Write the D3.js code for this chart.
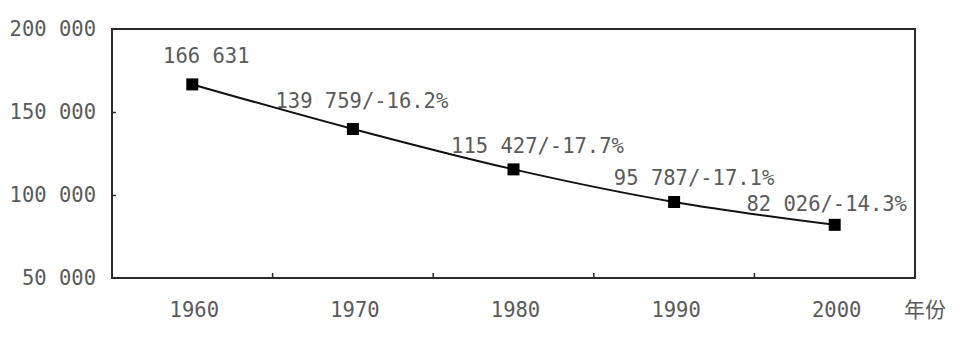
<!DOCTYPE html>
<html><head><meta charset="utf-8">
<script src="https://cdn.jsdelivr.net/npm/d3@7"></script>
<style>body{margin:0;background:#fff}svg{display:block}</style>
</head><body>
<svg id="c" width="964" height="339"></svg>
<script>
const years = ["1960","1970","1980","1990","2000"];
const values = [166631, 139759, 115427, 95787, 82026];
const labels = ["166 631","139 759/-16.2%","115 427/-17.7%","95 787/-17.1%","82 026/-14.3%"];
const yTicks = [50000, 100000, 150000, 200000];
const yTickLabels = ["50 000","100 000","150 000","200 000"];
const xUnit = "年份";
// label offsets relative to the point (layout only)
const labelDx = [14, 9, 24, 20, -8];
const labelDy = [-21, -21, -16, -17, -14];

const svg = d3.select("#c");
const L = 112, R = 915, T = 29, B = 278;
const x = d3.scaleBand().domain(years).range([L, R]).padding(0);
const y = d3.scaleLinear().domain([50000, 200000]).range([B, T]);
const font = "'DejaVu Sans Mono', monospace";
const fs = 20.5;
const txt = "#5a5a5a";

// frame
svg.append("rect").attr("x", L).attr("y", T).attr("width", R - L).attr("height", B - T)
  .attr("fill", "none").attr("stroke", "#2a2a2a").attr("stroke-width", 2);

// y axis ticks (inside)
const yAxis = d3.axisRight(y).tickValues([100000, 150000]).tickSize(4).tickFormat("");
const gy = svg.append("g").attr("transform", `translate(${L},0)`).call(yAxis);
gy.select(".domain").remove();
gy.selectAll("line").attr("stroke", "#2a2a2a").attr("stroke-width", 1.5);

// y labels
svg.append("g").selectAll("text").data(yTicks).join("text")
  .attr("x", 96).attr("y", d => y(d)).attr("dy", "0.35em")
  .attr("text-anchor", "end").attr("font-family", font).attr("font-size", fs)
  .attr("fill", txt).text((d, i) => yTickLabels[i]);

// x ticks at band boundaries (inside, pointing up)
const bounds = years.slice(1).map(d => x(d));
svg.append("g").selectAll("line").data(bounds).join("line")
  .attr("x1", d => d).attr("x2", d => d).attr("y1", B).attr("y2", B - 5)
  .attr("stroke", "#2a2a2a").attr("stroke-width", 1.5);

// x labels
svg.append("g").selectAll("text").data(years).join("text")
  .attr("x", d => x(d) + x.bandwidth() / 2 + 2).attr("y", 317)
  .attr("text-anchor", "middle").attr("font-family", font).attr("font-size", fs)
  .attr("fill", txt).text(d => d);
svg.append("text").attr("x", 925).attr("y", 317).attr("text-anchor", "middle")
  .attr("font-family", "'Noto Sans CJK SC', sans-serif").attr("font-size", 21)
  .attr("fill", txt).text(xUnit);

// line
const cx = d => x(d) + x.bandwidth() / 2;
const line = d3.line().x((d, i) => cx(years[i])).y(d => y(d)).curve(d3.curveMonotoneX);
svg.append("path").datum(values).attr("d", line).attr("fill", "none")
  .attr("stroke", "#111").attr("stroke-width", 2);

// markers
const s = 12;
svg.append("g").selectAll("rect").data(values).join("rect")
  .attr("x", (d, i) => cx(years[i]) - s / 2).attr("y", d => y(d) - s / 2)
  .attr("width", s).attr("height", s).attr("fill", "#000");

// value labels
svg.append("g").selectAll("text").data(values).join("text")
  .attr("x", (d, i) => cx(years[i]) + labelDx[i]).attr("y", (d, i) => y(d) + labelDy[i])
  .attr("text-anchor", "middle").attr("font-family", font).attr("font-size", fs)
  .attr("fill", txt).text((d, i) => labels[i]);
</script>
</body></html>
